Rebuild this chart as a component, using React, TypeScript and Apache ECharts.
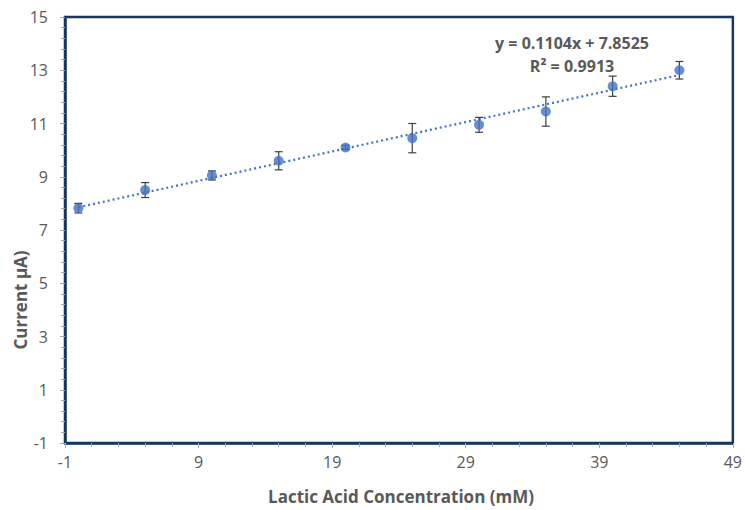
import React, { useEffect, useRef } from "react";
import * as echarts from "echarts";

const concentrations = [0, 5, 10, 15, 20, 25, 30, 35, 40, 45];
const currents = [7.82, 8.5, 9.05, 9.6, 10.1, 10.45, 10.95, 11.45, 12.4, 13.0];
const errors = [0.18, 0.28, 0.17, 0.34, 0.08, 0.55, 0.28, 0.55, 0.38, 0.33];
const trendSlope = 0.1104;
const trendIntercept = 7.8525;
const trendRange = [0, 45];
const equationLabel = "y = 0.1104x + 7.8525";
const r2Label = "R² = 0.9913";
const xTitle = "Lactic Acid Concentration (mM)";
const yTitle = "Current µA)";

const FONT = "'Open Sans', 'Noto Sans', sans-serif";
const GREY = "#595959";
const BLUE = "#4472C4";
const FRAME = "#17375E";

export default function App() {
  const ref = useRef<HTMLDivElement>(null);
  useEffect(() => {
    if (!ref.current) return;
    const chart = echarts.init(ref.current, undefined, { renderer: "svg" });
    const points = concentrations.map((x, i) => [x, currents[i]]);
    const errData = concentrations.map((x, i) => [x, currents[i] - errors[i], currents[i] + errors[i]]);
    const trend = trendRange.map((x) => [x, trendSlope * x + trendIntercept]);

    chart.setOption({
      animation: false,
      backgroundColor: "#ffffff",
      grid: {
        left: 65,
        right: 4,
        top: 17,
        bottom: 67,
        show: true,
        borderColor: FRAME,
        borderWidth: 2.5,
        containLabel: false,
      },
      xAxis: {
        type: "value",
        min: -1,
        max: 49,
        interval: 10,
        splitLine: { show: false },
        axisLine: { show: true, onZero: false, lineStyle: { color: FRAME, width: 2.5 } },
        axisTick: { show: true, inside: false, length: 5, lineStyle: { color: "#A6A6A6" } },
        minorTick: { show: true, splitNumber: 5, length: 4, lineStyle: { color: "#A6A6A6" } },
        axisLabel: { color: GREY, fontFamily: FONT, fontSize: 16, margin: 11 },
      },
      yAxis: {
        type: "value",
        min: -1,
        max: 15,
        interval: 2,
        splitLine: { show: false },
        axisLine: { show: true, onZero: false, lineStyle: { color: FRAME, width: 2.5 } },
        axisTick: { show: true, inside: false, length: 5, lineStyle: { color: "#A6A6A6" } },
        minorTick: { show: true, splitNumber: 5, length: 4, lineStyle: { color: "#A6A6A6" } },
        axisLabel: { color: GREY, fontFamily: FONT, fontSize: 16, margin: 17 },
      },
      series: [
        {
          type: "line",
          data: trend,
          showSymbol: false,
          symbol: "none",
          lineStyle: { color: BLUE, width: 2.2, type: [2, 3] },
          z: 1,
        },
        {
          type: "custom",
          data: errData,
          z: 3,
          renderItem: (params: any, api: any) => {
            const x = api.value(0);
            const lo = api.coord([x, api.value(1)]);
            const hi = api.coord([x, api.value(2)]);
            const half = 4;
            const style = { stroke: "#404040", lineWidth: 1.2 };
            return {
              type: "group",
              children: [
                { type: "line", shape: { x1: lo[0], y1: lo[1], x2: hi[0], y2: hi[1] }, style },
                { type: "line", shape: { x1: lo[0] - half, y1: lo[1], x2: lo[0] + half, y2: lo[1] }, style },
                { type: "line", shape: { x1: hi[0] - half, y1: hi[1], x2: hi[0] + half, y2: hi[1] }, style },
              ],
            };
          },
        },
        {
          type: "scatter",
          data: points,
          symbol: "circle",
          symbolSize: 10,
          itemStyle: { color: BLUE },
          z: 4,
        },
      ],
      graphic: [
        {
          type: "text",
          x: 572,
          y: 43,
          style: {
            text: equationLabel,
            fill: GREY,
            font: `bold 16px ${FONT}`,
            textAlign: "center",
            textVerticalAlign: "middle",
          },
        },
        {
          type: "text",
          x: 572,
          y: 66,
          style: {
            text: r2Label,
            fill: GREY,
            font: `bold 16px ${FONT}`,
            textAlign: "center",
            textVerticalAlign: "middle",
          },
        },
        {
          type: "text",
          x: 20,
          y: 300,
          rotation: Math.PI / 2,
          style: {
            text: yTitle,
            fill: GREY,
            font: `bold 17px ${FONT}`,
            textAlign: "center",
            textVerticalAlign: "middle",
          },
        },
        {
          type: "text",
          x: 401,
          y: 496,
          style: {
            text: xTitle,
            fill: GREY,
            font: `bold 17px ${FONT}`,
            textAlign: "center",
            textVerticalAlign: "middle",
          },
        },
      ],
    });
    return () => chart.dispose();
  }, []);
  return (
    <div
      ref={ref}
      style={{ position: "fixed", left: 0, top: 0, width: 745, height: 510 }}
    />
  );
}
